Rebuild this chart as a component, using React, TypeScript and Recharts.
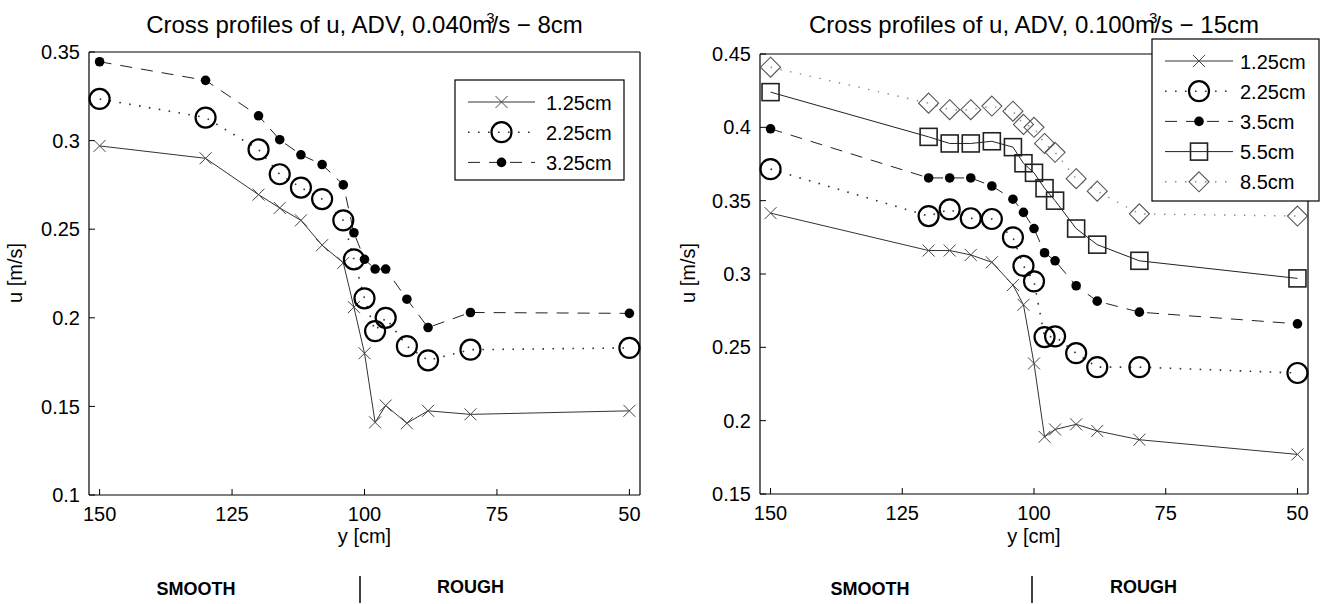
import { LineChart, Line, XAxis, YAxis } from "recharts";

const FONT = '"Liberation Sans", Arial, Helvetica, sans-serif';

// lateral position y [cm]
const yLow = [150, 130, 120, 116, 112, 108, 104, 102, 100, 98, 96, 92, 88, 80, 50];
const yHigh = [150, 120, 116, 112, 108, 104, 102, 100, 98, 96, 92, 88, 80, 50];

// 0.040 m3/s - 8cm, u [m/s] at three depths
const uLow125 = [0.297, 0.29, 0.2695, 0.262, 0.255, 0.241, 0.231, 0.206, 0.18, 0.141, 0.1505, 0.1405, 0.1475, 0.1455, 0.1475];
const uLow225 = [0.3235, 0.313, 0.295, 0.281, 0.2735, 0.267, 0.255, 0.233, 0.211, 0.1925, 0.2, 0.184, 0.176, 0.182, 0.183];
const uLow325 = [0.3445, 0.334, 0.314, 0.3005, 0.292, 0.2865, 0.275, 0.248, 0.233, 0.2275, 0.2275, 0.2105, 0.1945, 0.203, 0.2025];

// 0.100 m3/s - 15cm, u [m/s] at five depths
const uHigh125 = [0.3415, 0.316, 0.316, 0.313, 0.308, 0.2925, 0.279, 0.239, 0.189, 0.194, 0.1975, 0.193, 0.187, 0.177];
const uHigh225 = [0.3715, 0.3395, 0.344, 0.338, 0.3375, 0.325, 0.3055, 0.295, 0.257, 0.2575, 0.246, 0.2365, 0.2365, 0.2325];
const uHigh35 = [0.399, 0.3655, 0.3655, 0.3655, 0.36, 0.351, 0.342, 0.331, 0.3145, 0.309, 0.292, 0.2815, 0.274, 0.266];
const uHigh55 = [0.424, 0.3935, 0.389, 0.389, 0.3905, 0.3865, 0.3755, 0.369, 0.3585, 0.35, 0.331, 0.32, 0.309, 0.297];
const uHigh85 = [0.441, 0.4165, 0.412, 0.412, 0.4145, 0.411, 0.402, 0.4, 0.389, 0.383, 0.365, 0.3565, 0.341, 0.3395];

const xTicks = [150, 125, 100, 75, 50];
const yTicksLow = [0.1, 0.15, 0.2, 0.25, 0.3, 0.35];
const yTicksHigh = [0.15, 0.2, 0.25, 0.3, 0.35, 0.4, 0.45];

const lowRows = yLow.map((y, i) => ({ y, a: uLow125[i], b: uLow225[i], c: uLow325[i] }));
const highRows = yHigh.map((y, i) => ({
  y,
  a: uHigh125[i],
  b: uHigh225[i],
  c: uHigh35[i],
  d: uHigh55[i],
  e: uHigh85[i],
}));

type Shape = "x" | "o" | "dot" | "sq" | "dia";

type Series = { key: string; name: string; shape: Shape; stroke: string; width: number; dash?: string };

const lowSeries: Series[] = [
  { key: "a", name: "1.25cm", shape: "x", stroke: "#333", width: 1 },
  { key: "b", name: "2.25cm", shape: "o", stroke: "#333", width: 1.6, dash: "1.6 8.4" },
  { key: "c", name: "3.25cm", shape: "dot", stroke: "#222", width: 1, dash: "12 9" },
];

const highSeries: Series[] = [
  { key: "a", name: "1.25cm", shape: "x", stroke: "#333", width: 1 },
  { key: "b", name: "2.25cm", shape: "o", stroke: "#333", width: 1.6, dash: "1.6 8.4" },
  { key: "c", name: "3.5cm", shape: "dot", stroke: "#222", width: 1, dash: "12 9" },
  { key: "d", name: "5.5cm", shape: "sq", stroke: "#222", width: 1 },
  { key: "e", name: "8.5cm", shape: "dia", stroke: "#888", width: 1.4, dash: "1.4 8.6" },
];

function Mark({ shape, cx, cy }: { shape: Shape; cx: number; cy: number }) {
  if (cx == null || cy == null) return null;
  if (shape === "x") {
    const s = 6;
    return (
      <g stroke="#444" strokeWidth={1} fill="none">
        <line x1={cx - s} y1={cy - s} x2={cx + s} y2={cy + s} />
        <line x1={cx - s} y1={cy + s} x2={cx + s} y2={cy - s} />
      </g>
    );
  }
  if (shape === "o") return <circle cx={cx} cy={cy} r={10} fill="none" stroke="#000" strokeWidth={2.2} />;
  if (shape === "dot") return <circle cx={cx} cy={cy} r={4.8} fill="#000" stroke="none" />;
  if (shape === "sq")
    return <rect x={cx - 8.5} y={cy - 8.5} width={17} height={17} fill="none" stroke="#222" strokeWidth={1.6} />;
  return (
    <polygon
      points={`${cx},${cy - 10} ${cx + 10},${cy} ${cx},${cy + 10} ${cx - 10},${cy}`}
      fill="none"
      stroke="#555"
      strokeWidth={1.1}
    />
  );
}

const tickStyle = { fontSize: 20, fill: "#000", fontFamily: FONT };
const fmt = (v: number) => String(+v.toFixed(2));

function Panel({
  rows,
  series,
  yDomain,
  yTicks,
  width,
  margin,
}: {
  rows: any[];
  series: Series[];
  yDomain: [number, number];
  yTicks: number[];
  width: number;
  margin: { top: number; right: number; bottom: number; left: number };
}) {
  return (
    <LineChart width={width} height={604} data={rows} margin={margin}>
      <XAxis
        dataKey="y"
        type="number"
        domain={[48, 152]}
        reversed
        ticks={xTicks}
        interval={0}
        height={30}
        tickSize={-6}
        tickMargin={18}
        tick={tickStyle}
        axisLine={{ stroke: "#000", strokeWidth: 1.2 }}
        tickLine={{ stroke: "#000" }}
      />
      <XAxis
        xAxisId="top"
        orientation="top"
        dataKey="y"
        type="number"
        domain={[48, 152]}
        reversed
        ticks={xTicks}
        interval={0}
        height={1}
        tickSize={-6}
        tick={false}
        axisLine={{ stroke: "#000", strokeWidth: 1.2 }}
        tickLine={{ stroke: "#000" }}
      />
      <YAxis
        type="number"
        domain={yDomain}
        ticks={yTicks}
        interval={0}
        width={60}
        tickSize={-6}
        tickMargin={15}
        tick={tickStyle}
        tickFormatter={fmt}
        axisLine={{ stroke: "#000", strokeWidth: 1.2 }}
        tickLine={{ stroke: "#000" }}
      />
      <YAxis
        yAxisId="right"
        orientation="right"
        type="number"
        domain={yDomain}
        ticks={yTicks}
        interval={0}
        width={1}
        tickSize={-6}
        tick={false}
        axisLine={{ stroke: "#000", strokeWidth: 1.2 }}
        tickLine={{ stroke: "#000" }}
      />
      {series.map((s) => (
        <Line
          key={s.key}
          dataKey={s.key}
          name={s.name}
          type="linear"
          stroke={s.stroke}
          strokeWidth={s.width}
          strokeDasharray={s.dash}
          isAnimationActive={false}
          activeDot={false}
          dot={(p: any) => <Mark key={`${s.key}-${p.index}`} shape={s.shape} cx={p.cx} cy={p.cy} />}
        />
      ))}
    </LineChart>
  );
}

function LegendBox({
  series,
  x,
  y,
  w,
  h,
  lineX1,
  lineX2,
  textX,
  rowY0,
}: {
  series: Series[];
  x: number;
  y: number;
  w: number;
  h: number;
  lineX1: number;
  lineX2: number;
  textX: number;
  rowY0: number;
}) {
  const mid = (lineX1 + lineX2) / 2;
  return (
    <g>
      <rect x={x} y={y} width={w} height={h} fill="#fff" stroke="#000" strokeWidth={1.2} />
      {series.map((s, i) => {
        const ry = rowY0 + i * 30.2;
        return (
          <g key={s.key}>
            <line x1={lineX1} y1={ry} x2={lineX2} y2={ry} stroke={s.stroke} strokeWidth={s.width} strokeDasharray={s.dash} />
            <Mark shape={s.shape} cx={mid} cy={ry} />
            <text x={textX} y={ry + 7.5} fontSize={20} fontFamily={FONT} fill="#000">
              {s.name}
            </text>
          </g>
        );
      })}
    </g>
  );
}

function Title({ cx, flow, depth }: { cx: number; flow: string; depth: string }) {
  return (
    <text x={cx} y={33} textAnchor="middle" fontSize={24} fontFamily={FONT} fill="#000">
      {`Cross profiles of u, ADV, ${flow}m`}
      <tspan dx={-6} dy={-10} fontSize={15}>
        3
      </tspan>
      <tspan dx={-3} dy={10}>{`/s \u2212 ${depth}`}</tspan>
    </text>
  );
}

export default function App() {
  return (
    <div style={{ position: "absolute", left: 0, top: 0, width: 1321, height: 604, background: "#fff" }}>
      <div style={{ position: "absolute", left: 0, top: 0 }}>
        <Panel
          rows={lowRows}
          series={lowSeries}
          yDomain={[0.1, 0.35]}
          yTicks={yTicksLow}
          width={660}
          margin={{ top: 51, right: 19, bottom: 79, left: 29 }}
        />
      </div>
      <div style={{ position: "absolute", left: 680, top: 0 }}>
        <Panel
          rows={highRows}
          series={highSeries}
          yDomain={[0.15, 0.45]}
          yTicks={yTicksHigh}
          width={641}
          margin={{ top: 53, right: 12, bottom: 80, left: 20 }}
        />
      </div>
      <svg
        width={1321}
        height={604}
        style={{ position: "absolute", left: 0, top: 0, pointerEvents: "none" }}
      >
        <Title cx={364.5} flow="0.040" depth="8cm" />
        <Title cx={1034} flow="0.100" depth="15cm" />

        <LegendBox series={lowSeries} x={455} y={80} w={169} h={100} lineX1={468} lineX2={535} textX={546} rowY0={102} />
        <LegendBox series={highSeries} x={1152} y={39} w={167} h={162} lineX1={1165} lineX2={1233} textX={1240} rowY0={61} />

        <text x={364.5} y={543} textAnchor="middle" fontSize={20} fontFamily={FONT}>
          y [cm]
        </text>
        <text x={1034} y={543} textAnchor="middle" fontSize={20} fontFamily={FONT}>
          y [cm]
        </text>
        <text transform="translate(22,273) rotate(-90)" textAnchor="middle" fontSize={20} fontFamily={FONT}>
          u [m/s]
        </text>
        <text transform="translate(695,273) rotate(-90)" textAnchor="middle" fontSize={20} fontFamily={FONT}>
          u [m/s]
        </text>

        <text x={196} y={595} textAnchor="middle" fontSize={18} fontWeight="bold" fontFamily={FONT}>
          SMOOTH
        </text>
        <line x1={360} y1={576} x2={360} y2={603} stroke="#000" strokeWidth={1.5} />
        <text x={437} y={593} fontSize={18} fontWeight="bold" fontFamily={FONT}>
          ROUGH
        </text>
        <text x={870} y={595} textAnchor="middle" fontSize={18} fontWeight="bold" fontFamily={FONT}>
          SMOOTH
        </text>
        <line x1={1032} y1={576} x2={1032} y2={603} stroke="#000" strokeWidth={1.5} />
        <text x={1110} y={593} fontSize={18} fontWeight="bold" fontFamily={FONT}>
          ROUGH
        </text>
      </svg>
    </div>
  );
}
